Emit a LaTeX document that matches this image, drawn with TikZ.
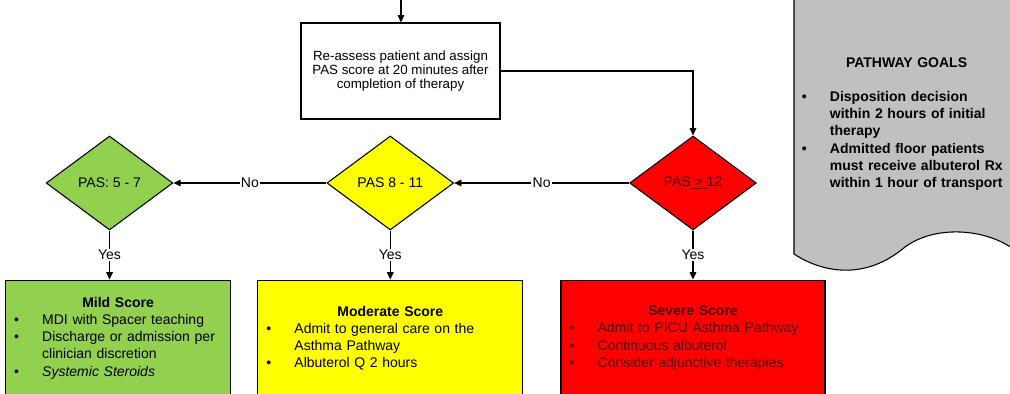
\documentclass[tikz,border=0pt]{standalone}
\usepackage{fontspec}
\setmainfont{Liberation Sans}
\usepackage{tikz}
\usetikzlibrary{positioning,arrows.meta,shapes.geometric}
\tikzset{flecha/.style={line width=0.8pt,-{Triangle[length=5.5pt,width=5pt]}}}
\tikzset{caja/.style={draw,rectangle,line width=0.8pt,inner sep=4.5pt}}
\tikzset{rombo/.style={draw,diamond,line width=0.8pt,minimum width=95pt,minimum height=70.5pt,inner sep=1pt}}
\tikzset{etiqueta/.style={fill=white,inner sep=1pt}}
\definecolor{scoregreen}{RGB}{146,208,80}
\definecolor{scoreyellow}{RGB}{255,255,0}
\definecolor{scorered}{RGB}{255,0,0}
\definecolor{goalgray}{RGB}{192,192,192}
\definecolor{redtext}{RGB}{80,0,0}
\newcommand{\vineta}{\makebox[23pt][l]{\hspace{2pt}\textbullet}}
\newcommand{\sangria}{\hspace*{23pt}}

\begin{document}
\begin{tikzpicture}[x=0.75pt, y=-0.75pt, every node/.style={font=\fontsize{10.5}{12.9}\selectfont}]
            \useasboundingbox (0,0) rectangle (1010,393);

            \draw[fill=goalgray, line width=0.8pt] (794,-5) -- (794,254)
                .. controls (815,268) and (860,285) .. (905,247)
                .. controls (935,225) and (985,228) .. (1015,250) -- (1015,-5) -- cycle;
            \node[anchor=base west, text width=161pt, align=left, inner sep=0pt,
                  font=\bfseries\fontsize{10.5}{12.9}\selectfont] (8) at (799,67)
                {\makebox[\linewidth]{PATHWAY GOALS}\\[12.9pt]
                 \vineta Disposition decision\\
                 \sangria within 2 hours of initial\\
                 \sangria therapy\\
                 \vineta Admitted floor patients\\
                 \sangria must receive albuterol Rx\\
                 \sangria within 1 hour of transport};

            \coordinate (0) at (401,-2);
            \node[caja, minimum width=149.25pt, minimum height=72pt, align=center,
                  font=\fontsize{10}{10.5}\selectfont] (1) at (400.5,71)
                {Re-assess patient and assign\\PAS score at 20 minutes after\\completion of therapy};

            \node[rombo, fill=scorered, text=redtext] (2) at (693,183) {PAS\underline{\ >\ }12};
            \node[rombo, fill=scoreyellow, left=131.25pt of 2] (3) {PAS 8 - 11};
            \node[rombo, fill=scoregreen, left=114.75pt of 3] (4) {PAS: 5 - 7};

            \node[caja, fill=scoregreen, minimum height=87pt, text width=159.75pt, align=left,
                  below=36.75pt of 4, xshift=6.4pt] (5)
                {\makebox[\linewidth]{\textbf{Mild Score}}\\
                 \vineta MDI with Spacer teaching\\
                 \vineta Discharge or admission per\\
                 \sangria clinician discretion\\
                 \vineta \textit{Systemic Steroids}};
            \node[caja, fill=scoreyellow, minimum height=87pt, text width=189.75pt, align=left,
                  below=36.75pt of 3] (6)
                {\makebox[\linewidth]{\textbf{Moderate Score}}\\
                 \vineta Admit to general care on the\\
                 \sangria Asthma Pathway\\
                 \vineta Albuterol Q 2 hours};
            \node[caja, fill=scorered, text=redtext, minimum height=87pt, text width=189pt, align=left,
                  below=36.75pt of 2] (7)
                {\makebox[\linewidth]{\textbf{Severe Score}}\\
                 \vineta Admit to PICU Asthma Pathway\\
                 \vineta Continuous albuterol\\
                 \vineta Consider adjunctive therapies};

            \draw[flecha] (0) -- (0 |- 1.north);
            \draw[flecha] (1.east) -| (2.north);
            \draw[flecha] (2) -- node[etiqueta] {No} (3);
            \draw[flecha] (3) -- node[etiqueta] {No} (4);
            \draw[flecha] (4.south) -- node[etiqueta] {Yes} (4.south |- 5.north);
            \draw[flecha] (3.south) -- node[etiqueta] {Yes} (3.south |- 6.north);
            \draw[flecha] (2.south) -- node[etiqueta] {Yes} (2.south |- 7.north);
        \end{tikzpicture}
\end{document}
